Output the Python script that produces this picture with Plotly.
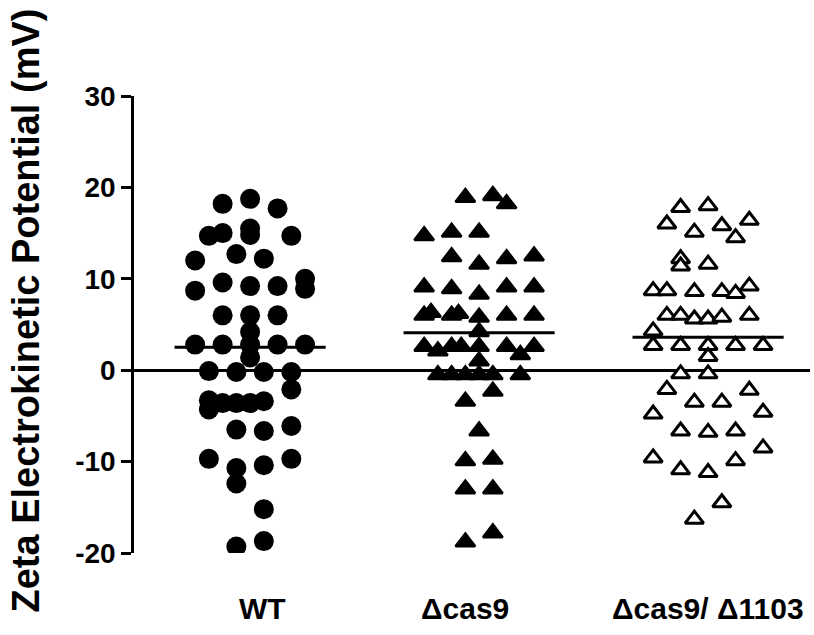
import plotly.graph_objects as go

# ---------------- data ----------------
categories = ["WT", "\u0394cas9", "\u0394cas9/ \u03941103"]
cat_pos = [1, 2, 3]

# values (mV) and beeswarm slot (column index within group) as drawn
wt_values = [18.2, 18.75, 17.7, 14.7, 15.0, 15.5, 14.8, 14.7, 12.0, 12.7, 12.2,
             8.7, 9.6, 9.2, 9.2, 10.0, 8.9, 6.0, 6.0, 6.0, 2.8, 2.8, 4.2, 2.8,
             1.4, 2.8, 2.8, -0.1, -0.2, -0.2, -0.2, -2.1, -3.3, -4.3, -3.6,
             -3.6, -3.6, -3.4, -6.5, -6.65, -6.1, -9.7, -10.7, -12.4, -10.4,
             -9.7, -15.2, -19.3, -18.7]
wt_slot = [-2, 0, 2, -3, -2, 0, 0, 3, -4, -1, 1,
           -4, -2, 0, 2, 4, 4, -2, 0, 2, -4, -2, 0, 0,
           0, 2, 4, -3, -1, 1, 3, 3, -3, -3, -2,
           -1, 0, 1, -1, 1, 3, -3, -1, -1, 1,
           3, 1, -1, 1]

cas9_values = [18.9, 19.1, 18.2, 14.7, 15.1, 15.1, 12.4, 11.6, 12.2, 12.5,
               9.1, 8.9, 8.3, 9.1, 9.1, 6.0, 6.3, 6.0, 6.2, 5.8, 4.2, 6.0, 6.0,
               2.6, 2.1, 2.6, 2.6, 2.6, 2.6, 1.7, 2.6, 1.0, -0.5, -0.5, -0.5,
               -0.5, -0.5, -0.5, -2.3, -3.4, -6.65, -9.9, -9.75, -13.0, -13.0,
               -18.8, -17.8]
cas9_slot = [-1, 1, 2, -4, -2, 0, -2, 0, 2, 4,
             -4, -2, 0, 2, 4, -4, -3.5, -2, -1.5, 0, 0, 2, 4,
             -4, -3, -2, -1.3, 0, 2, 3, 4, 0, -3, -2, -1,
             0, 1, 3, 1, -1, 0, -1, 1, -1, 1,
             -1, 1]

dko_values = [17.8, 18.0, 16.0, 15.1, 15.8, 16.4, 14.5, 12.2, 11.4, 11.6,
              8.7, 8.7, 8.6, 8.6, 8.4, 9.2, 6.0, 6.0, 5.6, 5.6, 5.8, 6.0, 4.3,
              2.7, 2.7, 2.7, 2.7, 2.7, 1.5, -0.4, -0.4, -2.1, -2.2, -3.5, -3.5,
              -4.8, -4.6, -6.65, -6.8, -6.65, -8.5, -9.6, -10.9, -11.2, -9.9,
              -14.5, -16.3]
dko_slot = [-2, 0, -3, -1, 1, 3, 2, -2, -2, 0,
            -4, -3, -1, 1, 2, 3, -3, -2, -1, 0, 1, 3, -4,
            -4, -2, 0, 2, 4, 0, -2, 0, -3, 3, -1, 1,
            -4, 4, -2, 0, 2, 4, -4, -2, 0, 2,
            1, -1]

group_means = [2.5, 4.1, 3.6]

y_ticks = [-20, -10, 0, 10, 20, 30]
y_title = "Zeta Electrokinetic Potential (mV)"

# ---------------- styling ----------------
SLOT_W = 0.06      # category units per swarm slot
MEAN_HALF = 0.33   # half-width of the mean bar
LABEL_SHIFT = [12, -14, 0]  # pixel nudges of the category labels
FONT = "Liberation Sans, Arial, sans-serif"

fig = go.Figure()

def xs(center, slots):
    return [center + s * SLOT_W for s in slots]

fig.add_trace(go.Scatter(
    x=xs(cat_pos[0], wt_slot), y=wt_values, mode="markers",
    marker=dict(symbol="circle", size=20, color="black", line=dict(width=0)),
    showlegend=False, hoverinfo="y"))
fig.add_trace(go.Scatter(
    x=xs(cat_pos[1], cas9_slot), y=cas9_values, mode="markers",
    marker=dict(symbol="triangle-up", size=17, color="black",
                line=dict(width=2.5, color="black")),
    showlegend=False, hoverinfo="y"))
fig.add_trace(go.Scatter(
    x=xs(cat_pos[2], dko_slot), y=dko_values, mode="markers",
    marker=dict(symbol="triangle-up", size=16, color="white",
                line=dict(width=3, color="black")),
    showlegend=False, hoverinfo="y"))

for c, m in zip(cat_pos, group_means):
    fig.add_trace(go.Scatter(
        x=[c - MEAN_HALF, c + MEAN_HALF], y=[m, m], mode="lines",
        line=dict(color="black", width=3), showlegend=False, hoverinfo="skip"))

annotations = []
for c, label, sh in zip(cat_pos, categories, LABEL_SHIFT):
    annotations.append(dict(
        x=c, y=0, xref="x", yref="paper", yanchor="middle", yshift=-55,
        xshift=sh, text=label, showarrow=False,
        font=dict(family=FONT, size=30, color="black", weight="bold")))
annotations.append(dict(
    x=0, y=0.5, xref="paper", yref="paper", xanchor="center", yanchor="middle",
    xshift=-109, yshift=14, textangle=-90, text=y_title, showarrow=False,
    font=dict(family=FONT, size=38, color="black", weight="bold")))

fig.update_layout(
    width=814, height=635,
    margin=dict(l=134, r=4, t=96, b=82),
    paper_bgcolor="white", plot_bgcolor="white",
    annotations=annotations,
    xaxis=dict(range=[0.493, 3.445], showline=False, showgrid=False,
               zeroline=False, showticklabels=False, ticks=""),
    yaxis=dict(range=[-20, 30], tickvals=y_ticks,
               ticktext=[str(v) for v in y_ticks], showgrid=False,
               showline=True, linecolor="black", linewidth=2.5,
               ticks="outside", ticklen=10, tickwidth=2.5, tickcolor="black",
               zeroline=True, zerolinecolor="black", zerolinewidth=3,
               tickfont=dict(family=FONT, size=28, color="black", weight="bold")),
)

fig.write_html("out.html")
